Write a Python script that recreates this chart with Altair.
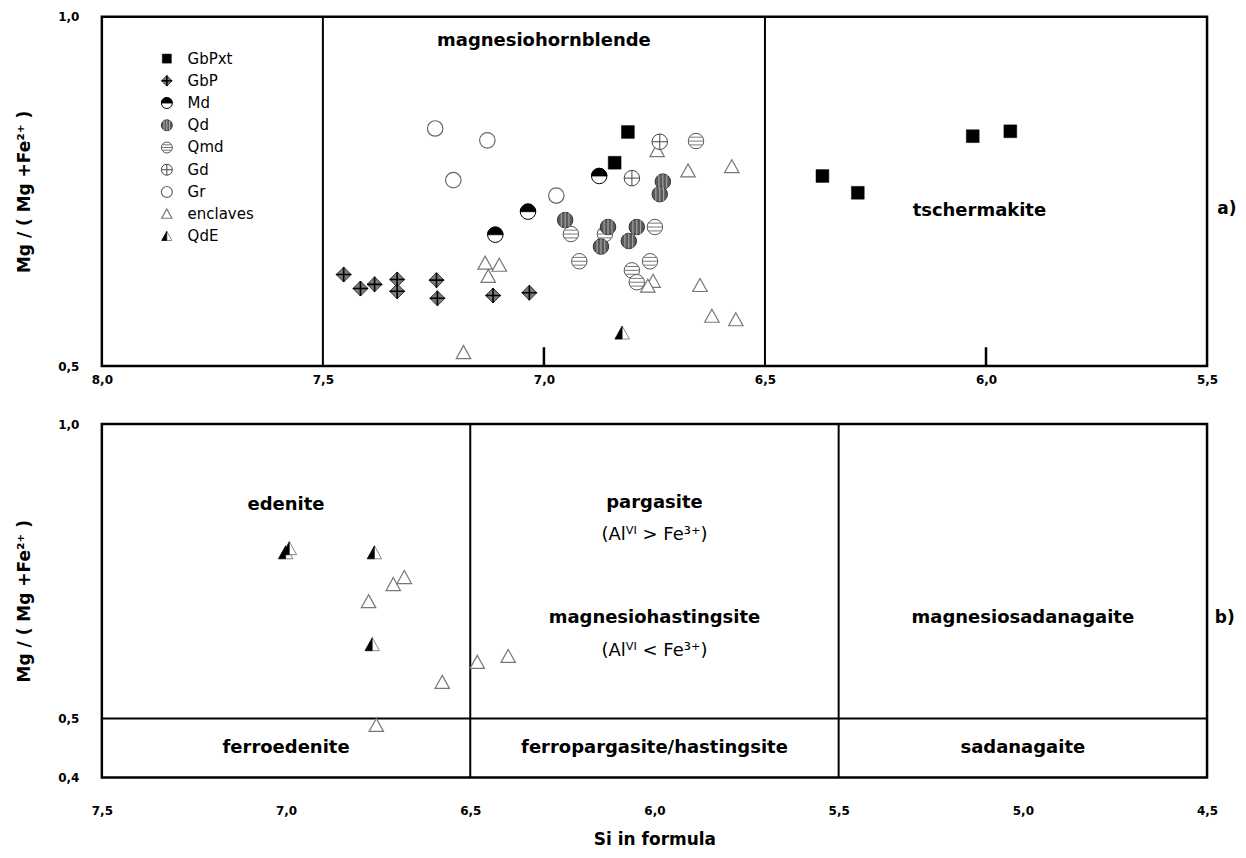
import altair as alt
import pandas as pd

# ---------------- data ----------------
# panel a)
A_GBPXT_SI = [6.810, 6.840, 6.370, 6.290, 6.030, 5.945]
A_GBPXT_MG = [0.835, 0.791, 0.772, 0.748, 0.829, 0.836]
A_GBP_SI = [7.453, 7.415, 7.383, 7.332, 7.332, 7.243, 7.241, 7.115, 7.033]
A_GBP_MG = [0.631, 0.611, 0.617, 0.624, 0.607, 0.623, 0.597, 0.601, 0.605]
A_MD_SI = [6.875, 7.036, 7.110]
A_MD_MG = [0.772, 0.721, 0.688]
A_QD_SI = [6.952, 6.855, 6.871, 6.790, 6.808, 6.731, 6.738]
A_QD_MG = [0.709, 0.699, 0.671, 0.699, 0.679, 0.764, 0.746]
A_QMD_SI = [6.656, 6.939, 6.862, 6.749, 6.920, 6.801, 6.760, 6.790]
A_QMD_MG = [0.822, 0.689, 0.689, 0.699, 0.650, 0.637, 0.650, 0.620]
A_GD_SI = [6.738, 6.801]
A_GD_MG = [0.821, 0.769]
A_GR_SI = [7.246, 7.128, 7.205, 6.972]
A_GR_MG = [0.840, 0.823, 0.766, 0.744]
A_ENC_SI = [6.744, 6.674, 6.575, 7.133, 7.101, 7.126, 6.753, 6.765, 6.647, 6.620, 6.566, 7.182]
A_ENC_MG = [0.808, 0.779, 0.785, 0.647, 0.644, 0.628, 0.621, 0.614, 0.615, 0.571, 0.566, 0.519]
A_QDE_SI = [6.823]
A_QDE_MG = [0.547]

# panel b)
B_QDE_SI = [7.001, 6.991, 6.760, 6.766]
B_QDE_MG = [0.781, 0.788, 0.781, 0.625]
B_ENC_SI = [6.709, 6.679, 6.776, 6.576, 6.481, 6.397, 6.755]
B_ENC_MG = [0.727, 0.739, 0.698, 0.561, 0.595, 0.605, 0.488]

GROUPS = ["GbPxt", "GbP", "Md", "Qd", "Qmd", "Gd", "Gr", "enclaves", "QdE"]

A_X_TICKS = [8.0, 7.5, 7.0, 6.5, 6.0, 5.5]
A_Y_TICKS = [0.5, 1.0]
B_X_TICKS = [7.5, 7.0, 6.5, 6.0, 5.5, 5.0, 4.5]
B_Y_TICKS = [0.4, 0.5, 1.0]

A_FIELD_SI = [7.5, 6.5]          # field boundaries, panel a
A_MINOR_SI = [7.0, 6.0]          # short inner ticks, panel a
B_FIELD_SI = [6.5, 5.5]          # field boundaries, panel b
B_FIELD_MG = [0.5]

A_NAMES = ["magnesiohornblende", "tschermakite"]
A_NAMES_SI = [7.0, 6.015]
A_NAMES_MG = [0.965, 0.722]
B_NAMES = ["edenite", "pargasite", "magnesiohastingsite", "magnesiosadanagaite",
           "ferroedenite", "ferropargasite/hastingsite", "sadanagaite"]
B_NAMES_SI = [7.0, 6.0, 6.0, 5.0, 7.0, 6.0, 5.0]
B_NAMES_MG = [0.862, 0.866, 0.671, 0.671, 0.450, 0.450, 0.450]
B_NOTES = ["(Alⱽᴵ > Fe³⁺)", "(Alⱽᴵ < Fe³⁺)"]
B_NOTES_SI = [6.0, 6.0]
B_NOTES_MG = [0.812, 0.614]
PANEL_TAGS = ["a)", "b)"]

# ---------------- tables ----------------
def pts(group, si, mg):
    return pd.DataFrame({"group": group, "si": si, "mg": mg})

df_a = pd.concat([
    pts("GbPxt", A_GBPXT_SI, A_GBPXT_MG), pts("GbP", A_GBP_SI, A_GBP_MG),
    pts("Md", A_MD_SI, A_MD_MG), pts("Qd", A_QD_SI, A_QD_MG),
    pts("Qmd", A_QMD_SI, A_QMD_MG), pts("Gd", A_GD_SI, A_GD_MG),
    pts("Gr", A_GR_SI, A_GR_MG), pts("enclaves", A_ENC_SI, A_ENC_MG),
    pts("QdE", A_QDE_SI, A_QDE_MG)], ignore_index=True)
df_b = pd.concat([pts("enclaves", B_ENC_SI, B_ENC_MG), pts("QdE", B_QDE_SI, B_QDE_MG)],
                 ignore_index=True)
legend_df = pd.DataFrame({"group": GROUPS, "i": list(range(len(GROUPS)))})

# ---------------- marker styles ----------------
DIAMOND = "M0,-1L1,0L0,1L-1,0Z"
CROSS = "M-1,0L1,0M0,-1L0,1"
HALF_TOP = "M-1,0A1,1,0,0,1,1,0Z"
HLINES = "M-1,0L1,0M-0.87,-0.5L0.87,-0.5M-0.87,0.5L0.87,0.5"
VLINES = "M0,-1L0,1M-0.5,-0.87L-0.5,0.87M0.5,-0.87L0.5,0.87"
TRI = "M0,-1L1,0.8L-1,0.8Z"
TRI_LEFT = "M0,-1L0,0.8L-1,0.8Z"

STYLE = {
    "GbPxt": [dict(shape="square", fill="black", stroke="black", sw=0.5)],
    "GbP": [dict(shape=DIAMOND, fill="#7a7a7a", stroke="#333", sw=1),
            dict(shape=CROSS, fill=None, stroke="black", sw=1.6)],
    "Md": [dict(shape="circle", fill="white", stroke="black", sw=1),
           dict(shape=HALF_TOP, fill="black", stroke="black", sw=0.8)],
    "Qd": [dict(shape="circle", fill="#5a5a5a", stroke="#333", sw=1),
           dict(shape=VLINES, fill=None, stroke="#b0b0b0", sw=1)],
    "Qmd": [dict(shape="circle", fill="white", stroke="#555", sw=1),
            dict(shape=HLINES, fill=None, stroke="#777", sw=1)],
    "Gd": [dict(shape="circle", fill="white", stroke="#444", sw=1),
           dict(shape=CROSS, fill=None, stroke="#444", sw=1)],
    "Gr": [dict(shape="circle", fill="white", stroke="#666", sw=1.2)],
    "enclaves": [dict(shape=TRI, fill="white", stroke="#777", sw=1.2)],
    "QdE": [dict(shape=TRI, fill="white", stroke="#888", sw=1),
            dict(shape=TRI_LEFT, fill="black", stroke="black", sw=0.5)],
}
SIZE = {"GbPxt": 165, "GbP": 225, "Md": 240, "Qd": 240, "Qmd": 240, "Gd": 240,
        "Gr": 240, "enclaves": 210, "QdE": 210}
DRAW_ORDER = ["enclaves", "Gr", "Gd", "Qmd", "Qd", "Md", "GbP", "GbPxt", "QdE"]

FONT = "DejaVu Sans"
LABEL_EXPR = "replace(format(datum.value, '.1f'), '.', ',')"
Y_TITLE = "Mg / ( Mg +Fe²⁺ )"


def mark_kwargs(part, size):
    kw = dict(shape=part["shape"], size=size, stroke=part["stroke"],
              strokeWidth=part["sw"], opacity=1)
    if part["fill"] is None:
        kw["filled"] = False
    else:
        kw["filled"] = True
        kw["fill"] = part["fill"]
    return kw


def encodings(xdom, ydom, xticks, yticks, xtitle, xlabpad, xtitlepad):
    xenc = alt.X("si:Q",
                 scale=alt.Scale(domain=xdom, reverse=True, nice=False, zero=False),
                 axis=alt.Axis(values=xticks, labelExpr=LABEL_EXPR, title=xtitle,
                               labelPadding=xlabpad, titlePadding=xtitlepad,
                               labelFlush=False))
    yenc = alt.Y("mg:Q",
                 scale=alt.Scale(domain=ydom, nice=False, zero=False),
                 axis=alt.Axis(values=yticks, labelExpr=LABEL_EXPR, title=Y_TITLE,
                               labelPadding=23, titlePadding=24, labelFlush=False))
    return xenc, yenc


def point_layers(df, xenc, yenc):
    layers = []
    for g in DRAW_ORDER:
        sub = df[df["group"] == g]
        if sub.empty:
            continue
        for part in STYLE[g]:
            layers.append(alt.Chart(sub).mark_point(**mark_kwargs(part, SIZE[g]))
                          .encode(x=xenc, y=yenc))
    return layers


def legend_layers(xenc, yenc):
    layers = []
    for g in GROUPS:
        sub = legend_df[legend_df["group"] == g]
        for part in STYLE[g]:
            layers.append(
                alt.Chart(sub)
                .transform_calculate(si="7.853", mg="0.940 - 0.0318 * datum.i")
                .mark_point(**mark_kwargs(part, SIZE[g] * 0.5))
                .encode(x=xenc, y=yenc))
    layers.append(
        alt.Chart(legend_df)
        .transform_calculate(si="7.806", mg="0.940 - 0.0318 * datum.i")
        .mark_text(align="left", baseline="middle", font=FONT, fontSize=15, color="black")
        .encode(x=xenc, y=yenc, text="group:N"))
    return layers


def text_layer(names, si, mg, xenc, yenc, weight, size):
    d = pd.DataFrame({"name": names, "si": si, "mg": mg})
    return (alt.Chart(d)
            .mark_text(align="center", baseline="middle", font=FONT, fontSize=size,
                       fontWeight=weight, color="black")
            .encode(x=xenc, y=yenc, text="name:N"))


# ---------------- panel a ----------------
xa, ya = encodings([5.5, 8.0], [0.5, 1.0], A_X_TICKS, A_Y_TICKS, None, 8, 0)
a_rules = alt.Chart(pd.DataFrame({"si": A_FIELD_SI, "mg": 0.5, "mg2": 1.0})).mark_rule(
    color="black", strokeWidth=2).encode(x=xa, y=ya, y2="mg2:Q")
a_minor = alt.Chart(pd.DataFrame({"si": A_MINOR_SI, "mg": 0.5, "mg2": 0.527})).mark_rule(
    color="black", strokeWidth=2.5).encode(x=xa, y=ya, y2="mg2:Q")
a_names = text_layer(A_NAMES, A_NAMES_SI, A_NAMES_MG, xa, ya, "bold", 18)
a_tag = text_layer([PANEL_TAGS[0]], [5.455], [0.725], xa, ya, "bold", 17)

panel_a = alt.layer(a_rules, a_minor, a_names, a_tag,
                    *point_layers(df_a, xa, ya), *legend_layers(xa, ya)
                    ).properties(width=1107, height=350)

# ---------------- panel b ----------------
xb, yb = encodings([4.5, 7.5], [0.4, 1.0], B_X_TICKS, B_Y_TICKS, "Si in formula", 28, 15)
b_vrules = alt.Chart(pd.DataFrame({"si": B_FIELD_SI, "mg": 0.4, "mg2": 1.0})).mark_rule(
    color="black", strokeWidth=2).encode(x=xb, y=yb, y2="mg2:Q")
b_hrule = alt.Chart(pd.DataFrame({"mg": B_FIELD_MG, "si": 7.5, "si2": 4.5})).mark_rule(
    color="black", strokeWidth=2).encode(x=xb, x2="si2:Q", y=yb)
b_names = text_layer(B_NAMES, B_NAMES_SI, B_NAMES_MG, xb, yb, "bold", 18)
b_notes = text_layer(B_NOTES, B_NOTES_SI, B_NOTES_MG, xb, yb, "normal", 18)
b_tag = text_layer([PANEL_TAGS[1]], [4.452], [0.671], xb, yb, "bold", 17)

panel_b = alt.layer(b_vrules, b_hrule, b_names, b_notes, b_tag,
                    *point_layers(df_b, xb, yb)
                    ).properties(width=1107, height=354)

chart = (
    alt.vconcat(panel_a, panel_b, spacing=29)
    .properties(padding={"left": 6, "top": 0, "right": 0, "bottom": 0})
    .configure_view(stroke="black", strokeWidth=2.5)
    .configure_axis(domain=False, ticks=False, grid=False,
                    labelFont=FONT, labelFontSize=12, labelFontWeight="bold",
                    labelColor="black", titleFont=FONT, titleFontSize=17,
                    titleFontWeight="bold", titleColor="black")
    .configure_concat(spacing=29)
)

chart.save("out.html", embed_options={"renderer": "svg", "actions": False})
